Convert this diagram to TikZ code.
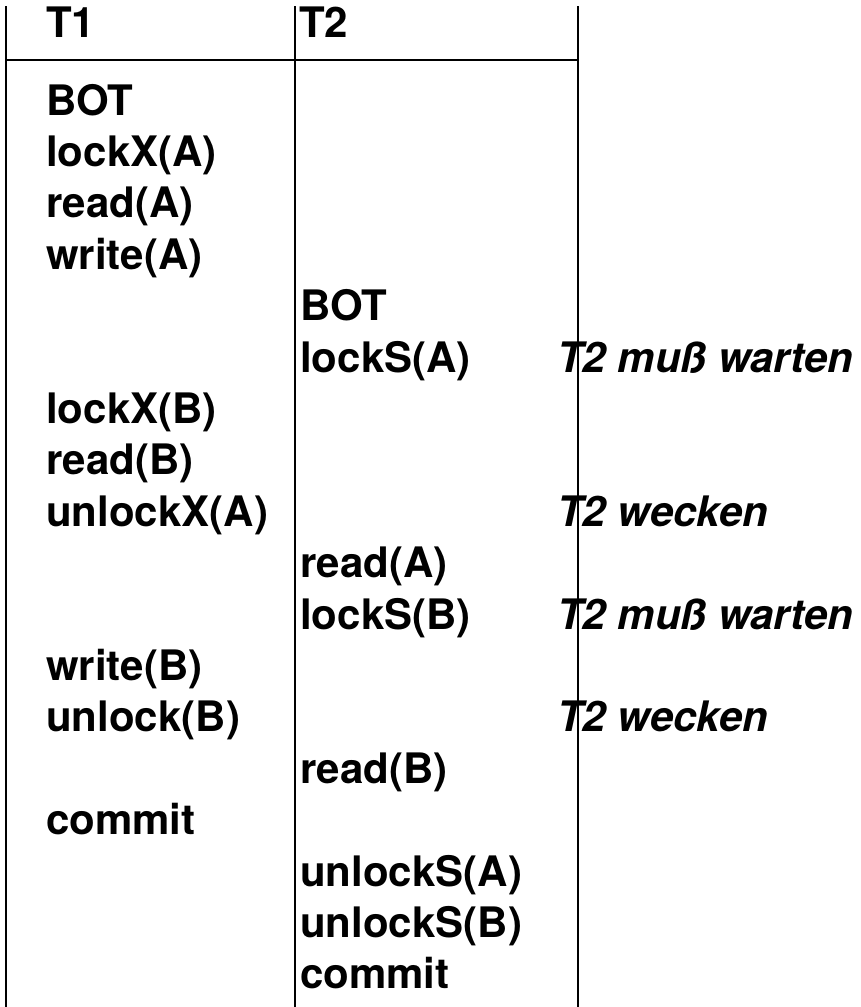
\documentclass[tikz,border=0pt]{standalone}
\usepackage{fontspec}
\setmainfont{TeX Gyre Heros}
\begin{document}
\begin{tikzpicture}[x=1pt,y=-1pt,
  op/.style={anchor=base west,inner sep=0pt,font=\fontsize{42}{50}\selectfont\bfseries},
  note/.style={anchor=base west,inner sep=0pt,font=\fontsize{42}{50}\selectfont\bfseries\itshape},
  rule/.style={line width=2.6pt}]
\useasboundingbox (0,0) rectangle (861,1007);
% grid
\coordinate (L1) at (6,6);   \coordinate (L2) at (6,1007);
\coordinate (M1) at (295,6); \coordinate (M2) at (295,1007);
\coordinate (R1) at (578,6); \coordinate (R2) at (578,1007);
\coordinate (H1) at (6,60);  \coordinate (H2) at (578,60);
\draw[rule] (L1) -- (L2);
\draw[rule] (M1) -- (M2);
\draw[rule] (R1) -- (R2);
\draw[rule] (H1) -- (H2);
% headers
\node[op] (t1) at (46,37) {T1};
\node[op] (t2) at (299,37) {T2};
% T1 column
\node[op] (a0)  at (46,115)   {BOT};
\node[op] (a1)  at (46,166.4) {lockX(A)};
\node[op] (a2)  at (46,217.8) {read(A)};
\node[op] (a3)  at (46,269.2) {write(A)};
\node[op] (a6)  at (46,423.4) {lockX(B)};
\node[op] (a7)  at (46,474.8) {read(B)};
\node[op] (a8)  at (46,526.2) {unlockX(A)};
\node[op] (a11) at (46,680.4) {write(B)};
\node[op] (a12) at (46,731.8) {unlock(B)};
\node[op] (a14) at (46,834.6) {commit};
% T2 column
\node[op] (b4)  at (300,320.6) {BOT};
\node[op] (b5)  at (300,372)   {lockS(A)};
\node[op] (b9)  at (300,577.6) {read(A)};
\node[op] (b10) at (300,629)   {lockS(B)};
\node[op] (b13) at (300,783.2) {read(B)};
\node[op] (b15) at (300,886)   {unlockS(A)};
\node[op] (b16) at (300,937.4) {unlockS(B)};
\node[op] (b17) at (300,988.8) {commit};
% notes
\node[note] (n5)  at (557,372)   {T2 muß warten};
\node[note] (n8)  at (557,526.2) {T2 wecken};
\node[note] (n10) at (557,629)   {T2 muß warten};
\node[note] (n12) at (557,731.8) {T2 wecken};
\end{tikzpicture}
\end{document}
